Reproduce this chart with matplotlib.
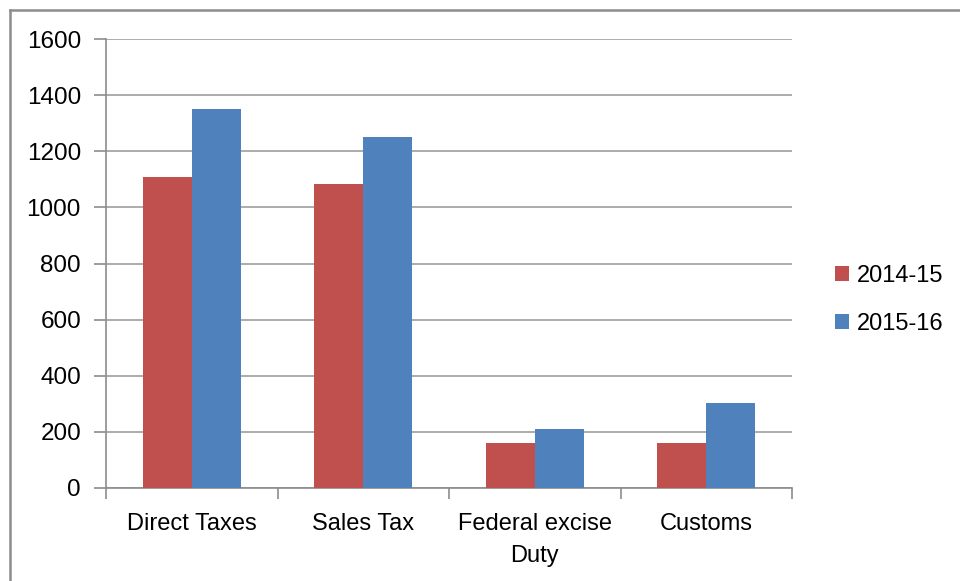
import numpy as np
import matplotlib.pyplot as plt
from matplotlib.lines import Line2D

plt.rcParams['font.family'] = ['Liberation Sans', 'DejaVu Sans']

# data
categories = ['Direct Taxes', 'Sales Tax', 'Federal excise\nDuty', 'Customs']
series_names = ['2014-15', '2015-16']
values_1415 = [1110, 1083, 159, 159]
values_1516 = [1350, 1252, 209, 302]
colors = ['#C0504D', '#4F81BD']

fig = plt.figure(figsize=(9.6, 5.81), dpi=100)
ax = fig.add_axes([106 / 960, 1 - 488 / 581, (792 - 106) / 960, (488 - 39) / 581])

x = np.arange(len(categories))
w = 1 / 3.5  # excel gap width 150%
ax.bar(x - w / 2, values_1415, width=w, color=colors[0], label=series_names[0], zorder=3)
ax.bar(x + w / 2, values_1516, width=w, color=colors[1], label=series_names[1], zorder=3)

ax.set_xlim(-0.5, len(categories) - 0.5)
ax.set_ylim(0, 1600)
ax.set_yticks(np.arange(0, 1601, 200))
ax.grid(axis='y', color='#a6a6a6', linewidth=1.3, zorder=0)

# category boundaries as major ticks, labels on minor ticks
ax.set_xticks(np.arange(-0.5, len(categories), 1))
ax.set_xticklabels([])
ax.set_xticks(x, minor=True)
ax.set_xticklabels(categories, minor=True, fontsize=17, linespacing=1.6)
ax.tick_params(axis='x', which='minor', length=0, pad=18)
ax.tick_params(axis='x', which='major', length=8, color='#8c8c8c', width=1.2)
ax.tick_params(axis='y', length=9, color='#8c8c8c', width=1.2, labelsize=17.5, pad=9)

for s in ['top', 'right']:
    ax.spines[s].set_visible(False)
for s in ['left', 'bottom']:
    ax.spines[s].set_color('#8c8c8c')
    ax.spines[s].set_linewidth(1.2)

leg = fig.legend(loc='center left', bbox_to_anchor=(814 / 960, 1 - 300 / 581), frameon=False,
                 fontsize=17, handlelength=0.6, handleheight=0.6, handletextpad=0.3,
                 labelspacing=1.1)

# outer chart border (left and top visible)
fig.add_artist(Line2D([9.5 / 960, 9.5 / 960], [0, 1 - 9.5 / 581], color='#8c8c8c', linewidth=1.8))
fig.add_artist(Line2D([9.5 / 960, 1], [1 - 9.5 / 581, 1 - 9.5 / 581], color='#8c8c8c', linewidth=1.8))

fig.savefig('out.png', dpi=100)
